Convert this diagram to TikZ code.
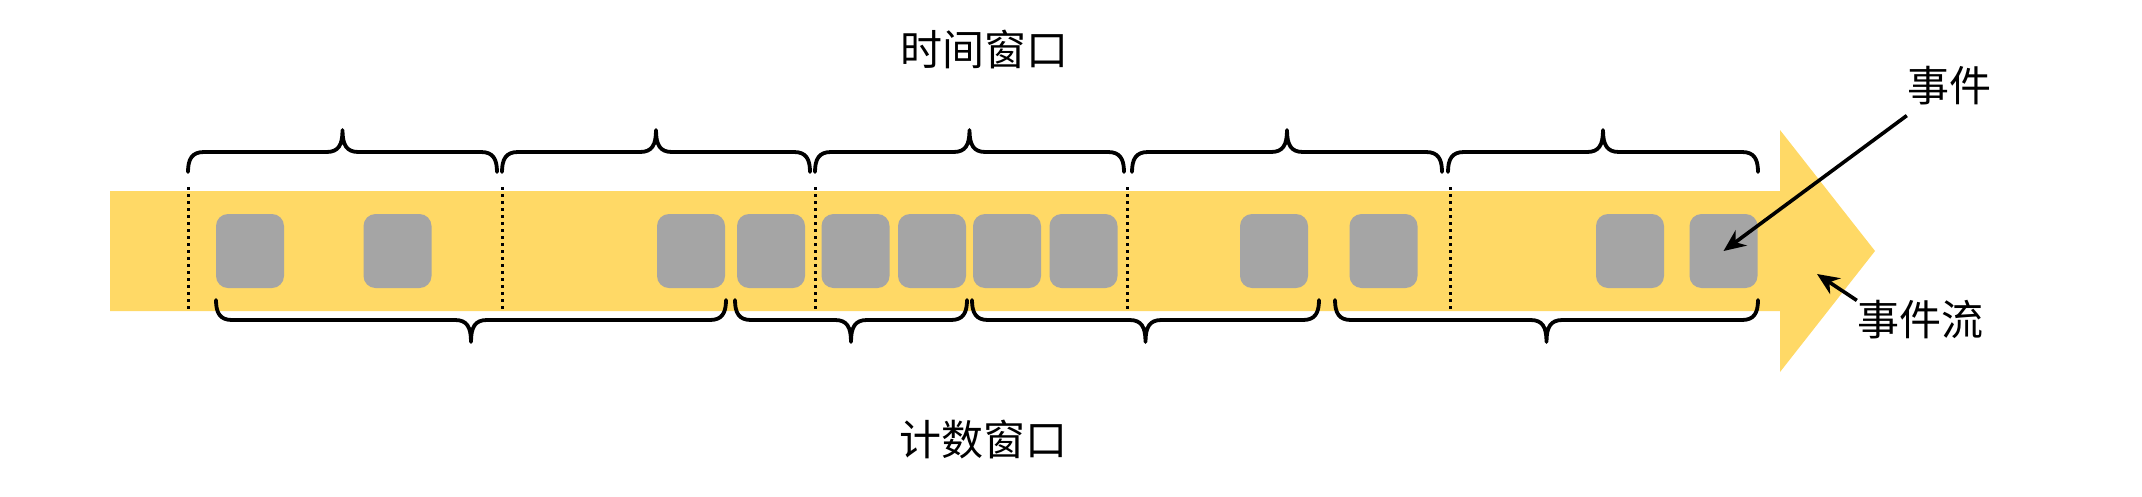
\documentclass[tikz,border=0pt]{standalone}
\usepackage{fontspec}
\newfontfamily\cjk{Noto Sans CJK SC}
\usetikzlibrary{arrows.meta}
\definecolor{streamyellow}{HTML}{FFD966}
\definecolor{eventgrey}{HTML}{A5A5A5}
\tikzset{
  streamfill/.style={fill=streamyellow, draw=none},
  evbox/.style={fill=eventgrey, draw=none, rounded corners=12pt, minimum width=68pt, minimum height=74pt, inner sep=0pt},
  bracestyle/.style={draw=black, line width=3.8pt, line cap=round, line join=round},
  winsep/.style={draw=black, line width=3pt, dash pattern=on 3pt off 4pt},
  txtlabel/.style={font=\cjk\fontsize{42pt}{42pt}\selectfont, inner sep=0pt, text=black},
  pointer/.style={draw=black, line width=3.6pt, -{Stealth[length=22pt,width=19pt]}},
}
\newcommand\streambrace[4]{%
 \draw[bracestyle] (#1,#3) .. controls (#1,{#3+13*#4}) and ({#1+4},{#3+20*#4}) .. ({#1+16},{#3+20*#4})
   -- ({(#1+#2)/2-16},{#3+20*#4}) .. controls ({(#1+#2)/2-4},{#3+20*#4}) and ({(#1+#2)/2},{#3+27*#4}) .. ({(#1+#2)/2},{#3+42*#4})
   .. controls ({(#1+#2)/2},{#3+27*#4}) and ({(#1+#2)/2+4},{#3+20*#4}) .. ({(#1+#2)/2+16},{#3+20*#4})
   -- ({#2-16},{#3+20*#4}) .. controls ({#2-4},{#3+20*#4}) and (#2,{#3+13*#4}) .. (#2,#3);}
\begin{document}
\begin{tikzpicture}[x=1pt,y=-1pt]
\useasboundingbox (0,0) rectangle (2142,496);
% stream arrow
\fill[streamfill] (110,191) -- (1780,191) -- (1780,130) -- (1875,251) -- (1780,372) -- (1780,311) -- (110,311) -- cycle;
% events
\node[evbox] (e1) at (250,251) {};
\node[evbox] (e2) at (397.5,251) {};
\node[evbox] (e3) at (691,251) {};
\node[evbox] (e4) at (771,251) {};
\node[evbox] (e5) at (855.5,251) {};
\node[evbox] (e6) at (932,251) {};
\node[evbox] (e7) at (1007,251) {};
\node[evbox] (e8) at (1083.5,251) {};
\node[evbox] (e9) at (1274,251) {};
\node[evbox] (e10) at (1383.5,251) {};
\node[evbox] (e11) at (1630,251) {};
\node[evbox] (e12) at (1723.5,251) {};
% window separators
\draw[winsep] (188,187) -- (188,311);
\draw[winsep] (502,187) -- (502,311);
\draw[winsep] (815,187) -- (815,311);
\draw[winsep] (1127,187) -- (1127,311);
\draw[winsep] (1450,187) -- (1450,311);
% time window braces
\streambrace{188}{497}{172}{-1}
\streambrace{502}{810}{172}{-1}
\streambrace{815}{1124}{172}{-1}
\streambrace{1132}{1442}{172}{-1}
\streambrace{1448}{1758}{172}{-1}
% count window braces
\streambrace{216}{726}{300}{1}
\streambrace{735}{967}{300}{1}
\streambrace{972}{1319}{300}{1}
\streambrace{1335}{1758}{300}{1}
% labels
\node[txtlabel] (timewin) at (984,49) {时间窗口};
\node[txtlabel] (countwin) at (983,439) {计数窗口};
\node[txtlabel] (evlabel) at (1949,86) {事件};
\node[txtlabel] (streamlabel) at (1920,320) {事件流};
\coordinate (headpt) at (1817,274);
\draw[pointer] ([shift={(0,10)}]evlabel.south west) -- (e12.center);
\draw[pointer] (streamlabel.north west) -- (headpt);
\end{tikzpicture}
\end{document}
